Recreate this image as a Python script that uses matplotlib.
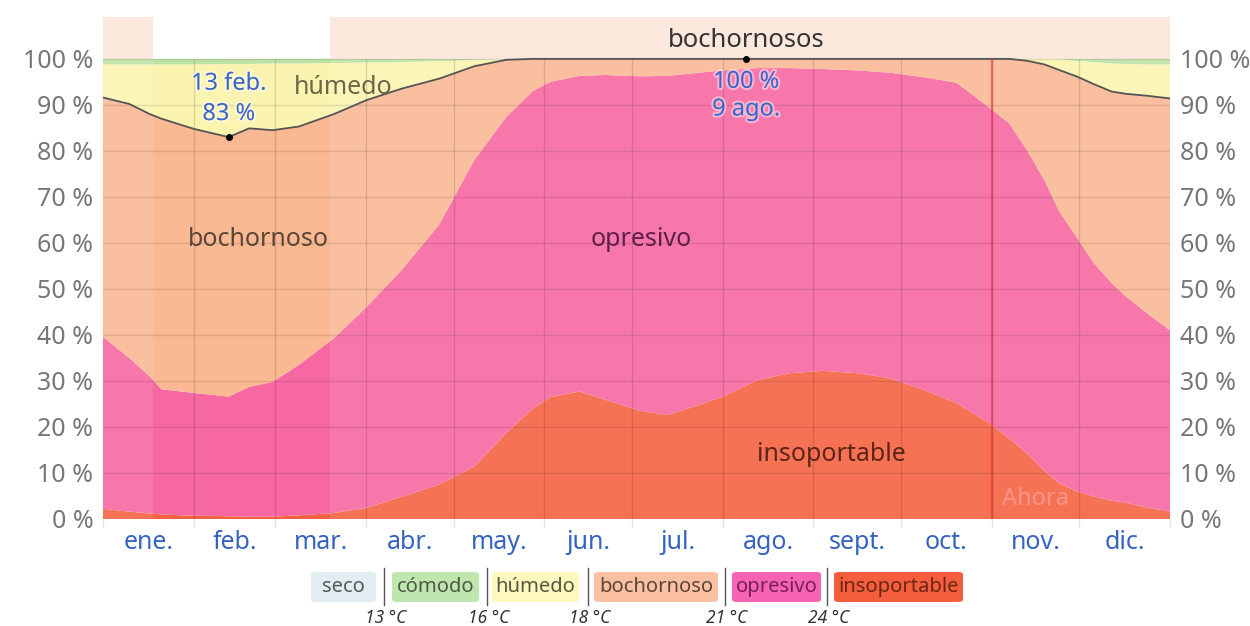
import numpy as np
import matplotlib
matplotlib.use("Agg")
import matplotlib.pyplot as plt
from matplotlib.patches import FancyBboxPatch
import matplotlib.patheffects as pe

plt.rcParams['font.family'] = ['Noto Sans', 'DejaVu Sans']

# ---------------- data ----------------
days = [0, 9, 16, 20, 31, 43, 50, 58, 67, 79, 90, 102, 115, 127, 138, 147, 153, 163,
        172, 184, 193, 204, 212, 224, 235, 246, 258, 269, 281, 292, 303, 310, 316,
        322, 327, 333, 339, 345, 350, 357, 365]
insoportable = [2.2, 1.6, 1.2, 1.0, 0.7, 0.6, 0.5, 0.5, 0.8, 1.3, 2.4, 4.8, 7.5, 11.4,
                18.7, 24.0, 26.5, 27.7, 25.9, 23.5, 22.6, 24.8, 26.6, 30.2, 31.7, 32.2,
                31.7, 30.6, 28.0, 25.2, 20.9, 17.5, 14.3, 10.5, 7.8, 6.0, 4.9, 4.0, 3.5,
                2.5, 1.6]
opresivo = [37.4, 33.4, 29.8, 27.2, 26.7, 26.0, 28.2, 29.3, 32.7, 38.0, 43.6, 49.2,
            56.5, 66.6, 68.7, 69.0, 68.5, 68.6, 70.6, 72.7, 73.7, 72.2, 70.9, 67.8,
            66.3, 65.6, 65.8, 66.4, 68.0, 69.6, 68.6, 68.5, 65.9, 63.2, 59.2, 55.3,
            50.7, 47.3, 44.8, 42.3, 39.4]
bochornoso = [52.0, 55.2, 57.0, 58.8, 57.4, 56.4, 56.2, 54.7, 51.8, 48.7, 45.0, 39.5,
              31.7, 20.4, 12.4, 7.0, 5.0, 3.7, 3.5, 3.8, 3.7, 3.0, 2.5, 2.0, 2.0, 2.2,
              2.5, 3.0, 4.0, 5.2, 10.5, 14.0, 19.4, 25.1, 30.6, 34.9, 38.9, 41.6,
              44.1, 47.2, 50.4]
humedo = [7.2, 8.6, 10.8, 11.8, 14.0, 15.9, 14.0, 14.5, 13.7, 11.1, 8.2, 5.8, 3.8, 1.4,
          0.2] + [0.0] * 17 + [0.4, 1.2, 2.3, 3.4, 4.8, 6.1, 6.5, 6.8, 7.4]
comodo = [1.2, 1.2, 1.2, 1.2, 1.2, 1.1, 1.1, 1.0, 1.0, 0.9, 0.8, 0.7, 0.5, 0.2,
          0.0] + [0.0] * 19 + [0.1, 0.4, 0.7, 1.0, 1.1, 1.2, 1.2]

months = ["ene.", "feb.", "mar.", "abr.", "may.", "jun.", "jul.", "ago.", "sept.",
          "oct.", "nov.", "dic."]
month_lengths = [31, 28, 31, 30, 31, 30, 31, 31, 30, 31, 30, 31]
yticks = [0, 10, 20, 30, 40, 50, 60, 70, 80, 90, 100]

muggy_season = [(0, 17), (77.5, 365)]   # "bochornosos" season
min_day, min_label_date = 43, "13 feb."
max_day, max_label_date = 220, "9 ago."
now_day = 304

legend_cats = ["seco", "cómodo", "húmedo", "bochornoso", "opresivo", "insoportable"]
legend_temps = ["13 °C", "16 °C", "18 °C", "21 °C", "24 °C"]

# ---------------- colours ----------------
c_ins = '#f56342'
c_opr = '#f768a2'
c_boc = '#fab893'
c_hum = '#fbf4b0'
c_com = '#bde2a6'

leg_colors = ['#e2edf2', '#bfe6ae', '#fdf8be', '#fbc0a1', '#f763b4', '#f45e3c']
leg_text = ['#555555', '#4d5a45', '#5a5640', '#5a4438', '#7a1f55', '#6e2414']

W, H = 1250, 626
fig = plt.figure(figsize=(W / 100, H / 100), dpi=100)
fig.patch.set_facecolor('white')

YTOP = 109.1
ax = fig.add_axes([103 / W, 107 / H, 1067 / W, 502 / H])
ax.set_xlim(0, 365)
ax.set_ylim(0, YTOP)
for s in ax.spines.values():
    s.set_visible(False)

ax.stackplot(days, insoportable, opresivo, bochornoso, humedo, comodo,
             colors=[c_ins, c_opr, c_boc, c_hum, c_com], linewidth=0, zorder=1)

muggy_top = np.array(insoportable) + np.array(opresivo) + np.array(bochornoso)
ax.plot(days, muggy_top, color='#555555', lw=1.3, zorder=4)

# season shading
for a, b in muggy_season:
    ax.fill_between([a, b], 0, 100, color='white', alpha=0.10, lw=0, zorder=2)
    ax.fill_between([a, b], 100, YTOP, color='#fce8dc', lw=0, zorder=2)

# grid
month_starts = np.concatenate([[0], np.cumsum(month_lengths)])
for yv in yticks:
    ax.axhline(yv, color='black', alpha=0.10, lw=1, zorder=3)
ax.vlines(month_starts[1:-1], 0, 100, color='black', alpha=0.13, lw=1, zorder=3)

# now line
ax.vlines([now_day], 0, 100, color='#e0283a', alpha=0.55, lw=1.6, zorder=5)
ax.text(now_day + 15, 4.4, "Ahora", color='#f99a8e', fontsize=17, ha='center',
        va='center', alpha=0.9, zorder=6)

# ticks
ax.set_yticks(yticks)
ax.set_yticklabels([f"{v} %" for v in yticks])
ax.tick_params(axis='y', length=0, labelsize=18, labelcolor='#777777',
               left=False, right=False, labelleft=True, labelright=True, pad=7)
ax.set_xticks(month_starts)
ax.set_xticklabels([])
ax.tick_params(axis='x', which='major', length=6, color='#e2e2e2', width=1)
mids = month_starts[:-1] + np.array(month_lengths) / 2
ax.set_xticks(mids, minor=True)
ax.set_xticklabels(months, minor=True)
ax.tick_params(axis='x', which='minor', length=0, labelsize=18, labelcolor='#3563c0',
               pad=8)

# category labels
lab_kw = dict(fontsize=18, ha='center', va='center', zorder=6)
ax.text(53, 60.7, "bochornoso", color='#5a4536', **lab_kw)
ax.text(184, 60.7, "opresivo", color='#5e1f48', **lab_kw)
ax.text(249, 14.0, "insoportable", color='#5e2416', **lab_kw)
ax.text(82, 93.7, "húmedo", color='#6a6648', **lab_kw)
ax.text(220, 104.1, "bochornosos", color='#333333', fontsize=18.5, ha='center',
        va='center', zorder=6)

# min / max annotations
halo = [pe.withStroke(linewidth=3, foreground='white', alpha=0.45)]
ann_kw = dict(color='#3b66c8', fontsize=17, ha='center', va='center',
              path_effects=halo, zorder=7)
min_val = muggy_top[days.index(min_day)]
ax.plot([min_day], [min_val], 'o', color='black', ms=4, zorder=7)
ax.text(min_day, 94.6, min_label_date, **ann_kw)
ax.text(min_day, 88.0, f"{min_val:.0f} %", **ann_kw)
max_val = 100
ax.plot([max_day], [max_val], 'o', color='black', ms=4, zorder=7)
ax.text(max_day, 95.0, f"{max_val} %", **ann_kw)
ax.text(max_day, 89.0, max_label_date, **ann_kw)

# ---------------- legend ----------------
def fx(px):
    return px / W

def fy(py):
    return 1 - py / H

boxes = [(311, 376), (392, 479), (492, 579), (594, 718), (732, 821), (834, 963)]
seps = [384, 487, 588, 725, 827]
y0, y1 = 572, 602
for (a, b), col, tc, name in zip(boxes, leg_colors, leg_text, legend_cats):
    p = FancyBboxPatch((fx(a), fy(y1)), fx(b - a), fy(y0) - fy(y1),
                       boxstyle="round,pad=0,rounding_size=0.004",
                       transform=fig.transFigure, facecolor=col, edgecolor='none')
    fig.patches.append(p)
    fig.text(fx((a + b) / 2), fy((y0 + y1) / 2), name, color=tc, fontsize=14.5,
             ha='center', va='center')
for sx, t in zip(seps, legend_temps):
    fig.add_artist(plt.Line2D([fx(sx), fx(sx)], [fy(568), fy(605)],
                              transform=fig.transFigure, color='#555555', lw=1))
    fig.text(fx(sx + 2), fy(618), t, color='#333333', fontsize=12.5, style='italic',
             ha='center', va='center')

fig.savefig("out.png", dpi=100)
